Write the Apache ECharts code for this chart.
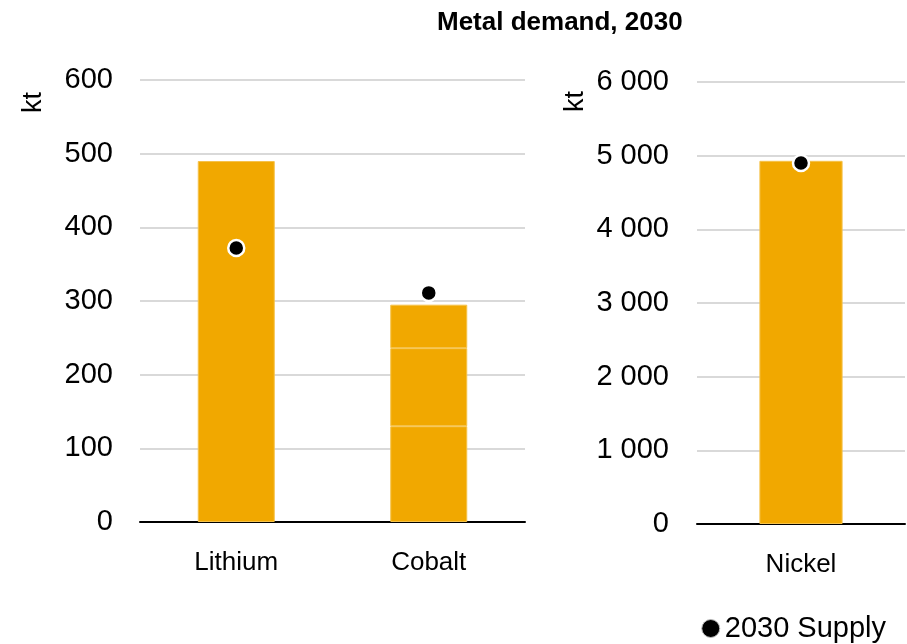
<!DOCTYPE html>
<html>
<head>
<meta charset="utf-8">
<script src="https://cdn.jsdelivr.net/npm/echarts@6/dist/echarts.min.js"></script>
<style>
  html, body { margin: 0; padding: 0; background: #fff; }
  #chart { width: 907px; height: 644px; }
</style>
</head>
<body>
<div id="chart"></div>
<script>
// Lithium and cobalt (left panel, kt)
const leftCategories = ['Lithium', 'Cobalt'];
const demandPart1 = [490, 130];
const demandPart2 = [null, 106];
const demandPart3 = [null, 59];
const supplyLeft = [372, 311];

// Nickel (right panel, kt)
const rightCategories = ['Nickel'];
const nickelDemand = [4930];
const nickelSupply = [4900];

const leftTicks = { min: 0, max: 600, interval: 100 };
const rightTicks = { min: 0, max: 6000, interval: 1000 };

const FONT = 'Liberation Sans, Arial, sans-serif';
const BAR = '#F1A800';
const barBorder = { color: BAR, borderColor: '#F5C24A', borderWidth: 1 };

function spaced(v) {
  return String(v).replace(/\B(?=(\d{3})+(?!\d))/g, ' ');
}

const xAxisBase = {
  type: 'category',
  axisTick: { show: false },
  axisLine: { lineStyle: { color: '#000', width: 2 } },
  axisLabel: { color: '#000', fontSize: 26, fontFamily: FONT, margin: 28 }
};
const yAxisBase = {
  type: 'value',
  axisLine: { show: false },
  axisTick: { show: false },
  splitLine: { lineStyle: { color: '#d9d9d9', width: 2 } },
  axisLabel: { color: '#000', fontSize: 29, fontFamily: FONT, formatter: spaced }
};
const dot = {
  type: 'scatter',
  name: '2030 Supply',
  symbol: 'circle',
  symbolSize: 16,
  itemStyle: { color: '#000', opacity: 1, borderColor: '#fff', borderWidth: 2.5 },
  z: 5
};

const chart = echarts.init(document.getElementById('chart'));
chart.setOption({
  animation: false,
  backgroundColor: '#fff',
  textStyle: { fontFamily: FONT },
  title: {
    text: 'Metal demand, 2030',
    left: 432, top: 5,
    textStyle: { fontSize: 26, fontWeight: 'bold', color: '#000', fontFamily: FONT }
  },
  legend: {
    data: [{ name: '2030 Supply', icon: 'circle',
      itemStyle: { color: '#000', opacity: 1, borderColor: '#bbb', borderWidth: 1 } }],
    right: 16, top: 609,
    itemWidth: 18, itemHeight: 18,
    textStyle: { fontSize: 29, color: '#000', fontFamily: FONT }
  },
  grid: [
    { left: 140, top: 80, width: 385, height: 442 },
    { left: 697, top: 82, width: 208, height: 442 }
  ],
  xAxis: [
    Object.assign({ gridIndex: 0, data: leftCategories }, xAxisBase),
    Object.assign({ gridIndex: 1, data: rightCategories }, xAxisBase)
  ],
  yAxis: [
    Object.assign({ gridIndex: 0 }, yAxisBase, leftTicks,
      { axisLabel: Object.assign({}, yAxisBase.axisLabel, { margin: 27 }) }),
    Object.assign({ gridIndex: 1 }, yAxisBase, rightTicks,
      { axisLabel: Object.assign({}, yAxisBase.axisLabel, { margin: 28 }) })
  ],
  graphic: [
    { type: 'text', x: 20, y: 113, rotation: Math.PI / 2,
      style: { text: 'kt', fontSize: 27, fontFamily: FONT, fill: '#000' } },
    { type: 'text', x: 562, y: 112, rotation: Math.PI / 2,
      style: { text: 'kt', fontSize: 27, fontFamily: FONT, fill: '#000' } }
  ],
  series: [
    { type: 'bar', name: 'Demand', stack: 'left', xAxisIndex: 0, yAxisIndex: 0,
      barWidth: '40%', data: demandPart1, itemStyle: barBorder },
    { type: 'bar', name: 'Demand', stack: 'left', xAxisIndex: 0, yAxisIndex: 0,
      barWidth: '40%', data: demandPart2, itemStyle: barBorder },
    { type: 'bar', name: 'Demand', stack: 'left', xAxisIndex: 0, yAxisIndex: 0,
      barWidth: '40%', data: demandPart3, itemStyle: barBorder },
    Object.assign({ xAxisIndex: 0, yAxisIndex: 0, data: supplyLeft }, dot),
    { type: 'bar', name: 'Demand', xAxisIndex: 1, yAxisIndex: 1,
      barWidth: '40%', data: nickelDemand, itemStyle: barBorder },
    Object.assign({ xAxisIndex: 1, yAxisIndex: 1, data: nickelSupply }, dot)
  ]
});
</script>
</body>
</html>
